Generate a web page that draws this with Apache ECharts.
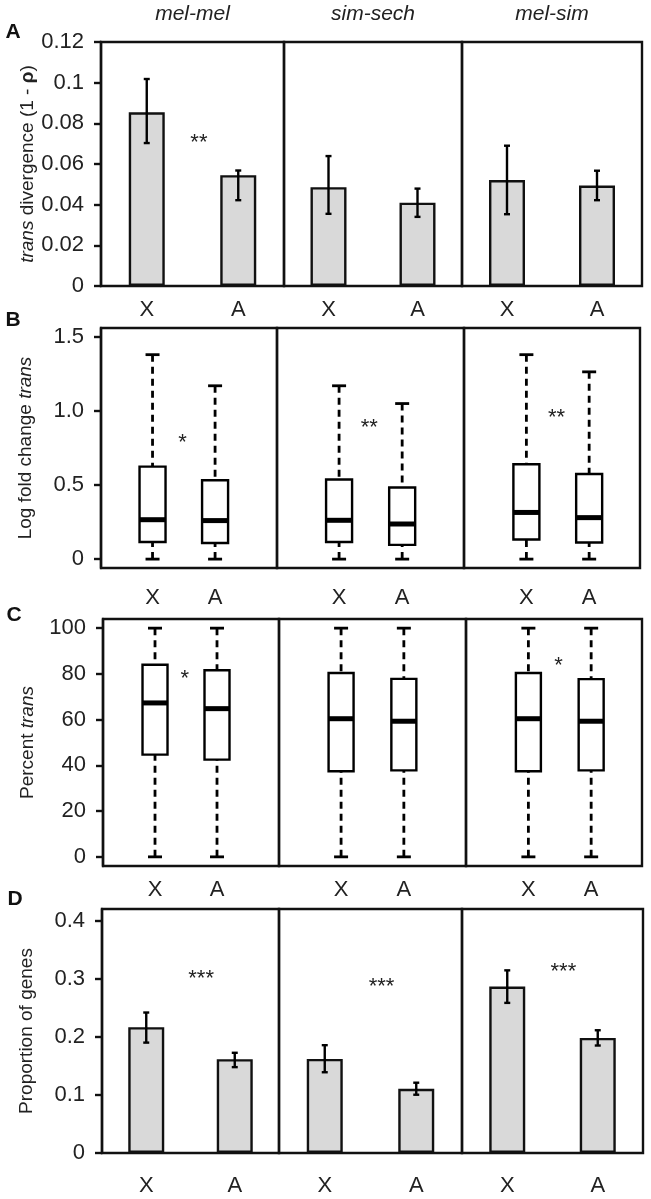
<!DOCTYPE html>
<html>
<head>
<meta charset="utf-8">
<script src="https://cdn.jsdelivr.net/npm/echarts@6/dist/echarts.min.js"></script>
<style>html,body{margin:0;padding:0;background:#fff;}#c{width:651px;height:1199px;}</style>
</head>
<body>
<div id="c"></div>
<script>
// ---------- DATA ----------
const sections = ['mel-mel', 'sim-sech', 'mel-sim'];
const cats = ['X', 'A'];

// Panel A: trans divergence (1 - rho), bar mean and error limits [X, A]
const divMean = [[0.0854, 0.0545], [0.0486, 0.0410], [0.0521, 0.0494]];
const divErrLow = [[0.0703, 0.0422], [0.0355, 0.0340], [0.0353, 0.0422]];
const divErrHigh = [[0.1018, 0.0568], [0.0639, 0.0479], [0.0690, 0.0567]];
const divStars = ['**', '', ''];
const divStarY = [0.073, null, null];
const divTicks = [0, 0.02, 0.04, 0.06, 0.08, 0.1, 0.12];

// Panel B: log fold change trans, boxes [low, q1, median, q3, high]
const lfcX = [[0, 0.116, 0.266, 0.624, 1.38], [0, 0.116, 0.262, 0.537, 1.17], [0, 0.132, 0.315, 0.64, 1.38]];
const lfcA = [[0, 0.109, 0.26, 0.532, 1.17], [0, 0.096, 0.237, 0.483, 1.05], [0, 0.112, 0.28, 0.575, 1.264]];
const lfcStars = ['*', '**', '**'];
const lfcStarY = [0.82, 0.92, 0.99];
const lfcTicks = [0, 0.5, 1.0, 1.5];

// Panel C: percent trans, boxes [low, q1, median, q3, high]
const pctX = [[0, 44.7, 67.3, 84.0, 100], [0, 37.4, 60.4, 80.4, 100], [0, 37.4, 60.4, 80.4, 100]];
const pctA = [[0, 42.5, 64.8, 81.6, 100], [0, 37.8, 59.3, 77.8, 100], [0, 37.8, 59.3, 77.7, 100]];
const pctStars = ['*', '', '*'];
const pctStarY = [80, null, 85.6];
const pctTicks = [0, 20, 40, 60, 80, 100];

// Panel D: proportion of genes
const propMean = [[0.2165, 0.1615], [0.162, 0.1106], [0.2864, 0.198]];
const propErrLow = [[0.190, 0.1478], [0.139, 0.1003], [0.2584, 0.185]];
const propErrHigh = [[0.2418, 0.1725], [0.1856, 0.121], [0.3144, 0.2113]];
const propStars = ['***', '***', '***'];
const propStarY = [0.309, 0.294, 0.321];
const propTicks = [0, 0.1, 0.2, 0.3, 0.4];

// ---------- LAYOUT ----------
const FONT = 'Liberation Sans, Arial, sans-serif';
const panels = [
  { key: 'A', kind: 'bar', top: 42, height: 244, xs: [101, 284, 462, 642], ymin: 0, ymax: 0.12,
    xmin: [0.5, 0.5, 0.5], xmax: [2.5, 2.5, 2.5], ticks: divTicks, labelMargin: 13,
    name: '{i|trans} divergence (1 - {b|ρ})', nameGap: 64,
    mean: divMean, lo: divErrLow, hi: divErrHigh, stars: divStars, starY: divStarY, starX: 1.57,
    fmt: v => String(v), plabel: [13, 32] },
  { key: 'B', kind: 'box', top: 328, height: 240, xs: [101, 277, 464, 640], ymin: -0.06, ymax: 1.56,
    xmin: [0.176, 0.016, 0.006], xmax: [2.99, 2.98, 2.81], ticks: lfcTicks, labelMargin: 19,
    name: 'Log fold change {i|trans}', nameGap: 66, bx: lfcX, ba: lfcA, hw: 13,
    stars: lfcStars, starY: lfcStarY, starX: 1.48,
    fmt: v => v === 0 ? '0' : v.toFixed(1), plabel: [13, 320] },
  { key: 'C', kind: 'box', top: 619, height: 247, xs: [103, 279, 466, 642], ymin: -4, ymax: 104,
    xmin: [0.161, 0.011, 0.006], xmax: [3.0, 2.99, 2.81], ticks: pctTicks, labelMargin: 13,
    name: 'Percent {i|trans}', nameGap: 66, bx: pctX, ba: pctA, hw: 12.5,
    stars: pctStars, starY: pctStarY, starX: 1.48,
    fmt: v => String(v), plabel: [14, 615] },
  { key: 'D', kind: 'bar', top: 909, height: 244, xs: [102, 279, 462, 643], ymin: 0, ymax: 0.42,
    xmin: [0.5, 0.5, 0.5], xmax: [2.5, 2.5, 2.5], ticks: propTicks, labelMargin: 22,
    name: 'Proportion of genes', nameGap: 66,
    mean: propMean, lo: propErrLow, hi: propErrHigh, stars: propStars, starY: propStarY, starX: 1.62,
    fmt: v => String(v), plabel: [15, 899] }
];

const grid = [], xAxis = [], yAxis = [], series = [], graphic = [];

function errRender(params, api) {
  const p1 = api.coord([api.value(0), api.value(1)]);
  const p2 = api.coord([api.value(0), api.value(2)]);
  const st = { stroke: '#000', lineWidth: 2.4 };
  const c = 3;
  return { type: 'group', children: [
    { type: 'line', shape: { x1: p1[0], y1: p1[1], x2: p2[0], y2: p2[1] }, style: st },
    { type: 'line', shape: { x1: p1[0] - c, y1: p1[1], x2: p1[0] + c, y2: p1[1] }, style: st },
    { type: 'line', shape: { x1: p2[0] - c, y1: p2[1], x2: p2[0] + c, y2: p2[1] }, style: st }
  ]};
}

function boxRender(hw) {
  return function (params, api) {
    const x = api.value(0);
    const pl = api.coord([x, api.value(1)]);
    const q1 = api.coord([x, api.value(2)]);
    const md = api.coord([x, api.value(3)]);
    const q3 = api.coord([x, api.value(4)]);
    const ph = api.coord([x, api.value(5)]);
    const cx = pl[0];
    const dash = { stroke: '#000', lineWidth: 2.8, lineDash: [7, 5] };
    const solid = { stroke: '#000', lineWidth: 2.8 };
    const cap = 7;
    return { type: 'group', children: [
      { type: 'line', shape: { x1: cx, y1: ph[1], x2: cx, y2: q3[1] }, style: dash },
      { type: 'line', shape: { x1: cx, y1: pl[1], x2: cx, y2: q1[1] }, style: dash },
      { type: 'line', shape: { x1: cx - cap, y1: ph[1], x2: cx + cap, y2: ph[1] }, style: solid },
      { type: 'line', shape: { x1: cx - cap, y1: pl[1], x2: cx + cap, y2: pl[1] }, style: solid },
      { type: 'rect', shape: { x: cx - hw, y: q3[1], width: 2 * hw, height: q1[1] - q3[1] },
        style: { fill: '#fff', stroke: '#000', lineWidth: 2.4 } },
      { type: 'line', shape: { x1: cx - hw, y1: md[1], x2: cx + hw, y2: md[1] },
        style: { stroke: '#000', lineWidth: 5 } }
    ]};
  };
}

function starRender(texts) {
  return function (params, api) {
    const p = api.coord([api.value(0), api.value(1)]);
    return { type: 'text', x: p[0], y: p[1] + 5,
      style: { text: texts[params.dataIndex], fontFamily: FONT, fontSize: 22, fill: '#222',
        textAlign: 'center', textVerticalAlign: 'middle' } };
  };
}

panels.forEach((P) => {
  for (let s = 0; s < 3; s++) {
    const gi = grid.length;
    grid.push({ left: P.xs[s], top: P.top, width: P.xs[s + 1] - P.xs[s], height: P.height,
      show: true, borderColor: '#111', borderWidth: 2.4, backgroundColor: 'transparent', containLabel: false });
    xAxis.push({ type: 'value', gridIndex: gi, min: P.xmin[s], max: P.xmax[s],
      axisLine: { show: false }, axisTick: { show: false }, splitLine: { show: false },
      axisLabel: { show: true, customValues: [1, 2], formatter: v => cats[Math.round(v) - 1],
        margin: P.labelMargin, fontSize: 22, fontFamily: FONT, color: '#222' } });
    const first = s === 0;
    yAxis.push({ type: 'value', gridIndex: gi, min: P.ymin, max: P.ymax,
      axisLine: { show: first, lineStyle: { color: '#111', width: 2.4 } },
      axisTick: { show: first, length: 7, customValues: P.ticks, lineStyle: { color: '#111', width: 2.4 } },
      axisLabel: { show: first, customValues: P.ticks, formatter: P.fmt, margin: 17,
        fontSize: 22, fontFamily: FONT, color: '#222' },
      splitLine: { show: false },
      name: first ? P.name : '', nameLocation: 'middle', nameRotate: 90, nameGap: P.nameGap,
      nameTextStyle: { fontSize: 19, fontFamily: FONT, color: '#222',
        rich: { i: { fontStyle: 'italic', fontSize: 19, fontFamily: FONT, color: '#222' },
                b: { fontWeight: 'bold', fontSize: 19, fontFamily: FONT, color: '#222' } } } });

    if (P.kind === 'bar') {
      series.push({ type: 'bar', xAxisIndex: gi, yAxisIndex: gi, barWidth: 36,
        data: [[1, P.mean[s][0]], [2, P.mean[s][1]]],
        itemStyle: { color: '#d9d9d9', borderColor: '#111', borderWidth: 2.4 }, silent: true, animation: false });
      series.push({ type: 'custom', xAxisIndex: gi, yAxisIndex: gi, renderItem: errRender,
        data: [[1, P.lo[s][0], P.hi[s][0]], [2, P.lo[s][1], P.hi[s][1]]], z: 5, animation: false, silent: true });
    } else {
      series.push({ type: 'custom', xAxisIndex: gi, yAxisIndex: gi, renderItem: boxRender(P.hw),
        data: [[1].concat(P.bx[s]), [2].concat(P.ba[s])], z: 5, animation: false, silent: true });
    }
    if (P.stars[s]) {
      series.push({ type: 'custom', xAxisIndex: gi, yAxisIndex: gi, renderItem: starRender([P.stars[s]]),
        data: [[P.starX, P.starY[s]]], z: 6, animation: false, silent: true });
    }
  }
  graphic.push({ type: 'text', x: P.plabel[0], y: P.plabel[1],
    style: { text: P.key, fontFamily: FONT, fontSize: 21, fontWeight: 'bold', fill: '#111',
      textAlign: 'center', textVerticalAlign: 'middle' } });
});

// section titles above panel A
const tA = panels[0];
sections.forEach((name, s) => {
  graphic.push({ type: 'text', x: (tA.xs[s] + tA.xs[s + 1]) / 2, y: 14,
    style: { text: name, fontFamily: FONT, fontSize: 21, fontStyle: 'italic', fill: '#222',
      textAlign: 'center', textVerticalAlign: 'middle' } });
});

const chart = echarts.init(document.getElementById('c'), null, { renderer: 'canvas' });
chart.setOption({ animation: false, backgroundColor: '#fff', grid, xAxis, yAxis, series, graphic });
</script>
</body>
</html>
